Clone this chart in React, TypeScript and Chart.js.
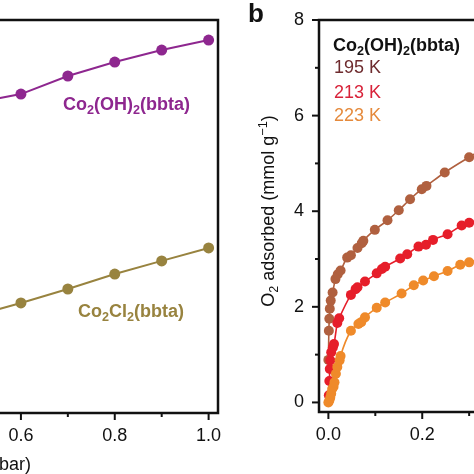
import React, { useEffect, useRef } from "react";
import { Chart, registerables } from "chart.js";

Chart.register(...registerables);

// ---- Panel a (left, partially visible) ----
const P_A = [0.5, 0.6, 0.7, 0.8, 0.9, 1.0];
const Q_OH = [1.578, 1.623, 1.715, 1.786, 1.847, 1.898];
const Q_CL = [0.494, 0.56, 0.631, 0.707, 0.774, 0.84];

// ---- Panel b (right) : Co2(OH)2(bbta) O2 isotherms ----
const P_195 = [0.0, 0.001, 0.002, 0.003, 0.005, 0.009, 0.015, 0.02, 0.026, 0.04, 0.048, 0.062, 0.071, 0.0745, 0.099, 0.126, 0.15, 0.174, 0.199, 0.209, 0.248, 0.3, 0.35];
const Q_195 = [0.89, 1.5, 1.75, 1.96, 2.13, 2.3, 2.58, 2.68, 2.76, 3.03, 3.08, 3.23, 3.33, 3.38, 3.61, 3.81, 4.02, 4.25, 4.46, 4.53, 4.81, 5.13, 5.42];
const P_213 = [0.001, 0.002, 0.003, 0.004, 0.006, 0.0095, 0.012, 0.019, 0.023, 0.048, 0.058, 0.062, 0.078, 0.103, 0.114, 0.121, 0.153, 0.168, 0.192, 0.208, 0.223, 0.254, 0.284, 0.3, 0.35];
const Q_213 = [0.15, 0.45, 0.7, 0.88, 1.05, 1.15, 1.22, 1.66, 1.76, 2.25, 2.37, 2.41, 2.53, 2.7, 2.79, 2.84, 3.01, 3.1, 3.26, 3.3, 3.4, 3.52, 3.7, 3.76, 3.92];
const P_223 = [0.0, 0.002, 0.004, 0.006, 0.008, 0.011, 0.013, 0.016, 0.019, 0.024, 0.026, 0.048, 0.064, 0.07, 0.078, 0.103, 0.121, 0.156, 0.182, 0.202, 0.225, 0.254, 0.281, 0.3, 0.35];
const Q_223 = [0.0, 0.04, 0.1, 0.18, 0.28, 0.33, 0.42, 0.6, 0.74, 0.88, 0.97, 1.5, 1.64, 1.68, 1.78, 1.98, 2.09, 2.28, 2.45, 2.55, 2.64, 2.75, 2.88, 2.93, 3.1];

const X_TICK_LABELS = ["0.0", "0.2", "0.4", "0.6", "0.8", "1.0"];
const Y_TICK_LABELS = ["0", "2", "4", "6", "8"];

const FONT = '"Liberation Sans", Arial, Helvetica, sans-serif';
const PURPLE = "#8e278f";
const OLIVE = "#98833f";
const BROWN = "#b0603f";
const RED = "#e61e2a";
const ORANGE = "#ef8a2a";

const pts = (xs: number[], ys: number[]) => xs.map((x, i) => ({ x, y: ys[i] }));

const hasLabel = (l: any) => (Array.isArray(l) ? l.length > 0 : !!l);

const framePlugin = {
  id: "frame",
  beforeDatasetsDraw(chart: any, _args: any, opts: any) {
    const { ctx, chartArea: a, scales } = chart;
    ctx.save();
    ctx.strokeStyle = "#111";
    ctx.lineWidth = 2.5;
    ctx.strokeRect(a.left, a.top, a.right - a.left, a.bottom - a.top);
    ctx.lineWidth = 2;
    const xs = scales.x;
    xs.ticks.forEach((t: any) => {
      const px = xs.getPixelForValue(t.value);
      const len = hasLabel(t.label) ? 7 : 4;
      ctx.beginPath();
      ctx.moveTo(px, a.bottom);
      ctx.lineTo(px, a.bottom + len);
      ctx.stroke();
    });
    if (opts && opts.yTicks) {
      const ys = scales.y;
      ys.ticks.forEach((t: any) => {
        const py = ys.getPixelForValue(t.value);
        const len = hasLabel(t.label) ? 7 : 4;
        ctx.beginPath();
        ctx.moveTo(a.left, py);
        ctx.lineTo(a.left - len, py);
        ctx.stroke();
      });
    }
    ctx.restore();
  },
};

const xTickCb = (v: any) => {
  const k = Math.round(Number(v) * 10);
  return k % 2 === 0 ? X_TICK_LABELS[k / 2] ?? "" : "";
};
const yTickCb = (v: any) => {
  const k = Math.round(Number(v));
  return k % 2 === 0 ? Y_TICK_LABELS[k / 2] ?? "" : "";
};

const hiddenGrid = { display: true, drawOnChartArea: false, drawTicks: true, tickLength: 6, color: "rgba(0,0,0,0)" };

export default function App() {
  const leftRef = useRef<HTMLCanvasElement>(null);
  const rightRef = useRef<HTMLCanvasElement>(null);

  useEffect(() => {
    const left = new Chart(leftRef.current as HTMLCanvasElement, {
      type: "scatter",
      data: {
        datasets: [
          { data: pts(P_A, Q_OH), borderColor: PURPLE, backgroundColor: PURPLE, pointBackgroundColor: PURPLE, showLine: true, borderWidth: 2, pointRadius: 5.5, pointBorderWidth: 0, clip: false } as any,
          { data: pts(P_A, Q_CL), borderColor: OLIVE, backgroundColor: OLIVE, pointBackgroundColor: OLIVE, showLine: true, borderWidth: 2, pointRadius: 5.5, pointBorderWidth: 0, clip: false } as any,
        ],
      },
      options: {
        responsive: false,
        animation: false,
        layout: { padding: { top: 20, right: 42, left: 0, bottom: 0 } },
        plugins: { legend: { display: false }, tooltip: { enabled: false }, frame: { yTicks: false } } as any,
        scales: {
          x: {
            type: "linear",
            min: -0.02,
            max: 1.02,
            grid: hiddenGrid,
            border: { display: false },
            ticks: { stepSize: 0.1, includeBounds: false, autoSkip: false, maxRotation: 0, padding: 6, color: "#111", font: { family: FONT, size: 18 }, callback: xTickCb },
            afterFit: (s: any) => { s.height = 61; },
          } as any,
          y: {
            type: "linear",
            min: 0,
            max: 2,
            grid: { display: false },
            border: { display: false },
            ticks: { display: false },
            afterFit: (s: any) => { s.width = 70; },
          } as any,
        },
      },
      plugins: [framePlugin],
    });

    const mk = (xs: number[], ys: number[], c: string) => ({
      data: pts(xs, ys),
      borderColor: c,
      backgroundColor: c,
      pointBackgroundColor: c,
      showLine: true,
      borderWidth: 1.6,
      pointRadius: 5,
      pointBorderWidth: 0,
      cubicInterpolationMode: "monotone",
      clip: false,
    });

    const right = new Chart(rightRef.current as HTMLCanvasElement, {
      type: "scatter",
      data: {
        datasets: [mk(P_223, Q_223, ORANGE), mk(P_213, Q_213, RED), mk(P_195, Q_195, BROWN)] as any,
      },
      options: {
        responsive: false,
        animation: false,
        layout: { padding: { top: 20, right: 43, left: 0, bottom: 0 } },
        plugins: { legend: { display: false }, tooltip: { enabled: false }, frame: { yTicks: true } } as any,
        scales: {
          x: {
            type: "linear",
            min: -0.02,
            max: 1.02,
            grid: hiddenGrid,
            border: { display: false },
            ticks: { stepSize: 0.1, includeBounds: false, autoSkip: false, maxRotation: 0, padding: 6, color: "#111", font: { family: FONT, size: 18 }, callback: xTickCb },
            afterFit: (s: any) => { s.height = 62; },
          } as any,
          y: {
            type: "linear",
            min: -0.2,
            max: 8,
            grid: hiddenGrid,
            border: { display: false },
            ticks: { stepSize: 1, includeBounds: false, autoSkip: false, padding: 9, color: "#111", font: { family: FONT, size: 18 }, callback: yTickCb },
            afterFit: (s: any) => { s.width = 69; },
          } as any,
        },
      },
      plugins: [framePlugin],
    });

    return () => {
      left.destroy();
      right.destroy();
    };
  }, []);

  const sub: React.CSSProperties = { fontSize: "0.7em", verticalAlign: "-0.3em", lineHeight: 0 };
  const sup: React.CSSProperties = { fontSize: "0.7em", verticalAlign: "0.55em", lineHeight: 0 };
  const txt = (extra: React.CSSProperties): React.CSSProperties => ({
    position: "absolute",
    whiteSpace: "nowrap",
    lineHeight: 1,
    fontFamily: FONT,
    fontSize: 18,
    ...extra,
  });

  return (
    <div style={{ position: "fixed", left: 0, top: 0, width: 474, height: 474, overflow: "hidden", background: "#fff", fontFamily: FONT }}>
      <canvas ref={leftRef} width={600} height={474} style={{ position: "absolute", left: -340, top: 0, width: 600, height: 474 }} />
      <canvas ref={rightRef} width={600} height={474} style={{ position: "absolute", left: 250, top: 0, width: 600, height: 474 }} />

      {/* panel a annotations */}
      <div style={txt({ left: 63, top: 95, fontWeight: "bold", color: PURPLE })}>
        Co<span style={sub}>2</span>(OH)<span style={sub}>2</span>(bbta)
      </div>
      <div style={txt({ left: 78, top: 302, fontWeight: "bold", color: OLIVE })}>
        Co<span style={sub}>2</span>Cl<span style={sub}>2</span>(bbta)
      </div>
      <div style={txt({ right: 443, top: 455, color: "#111", textAlign: "right" })}>Pressure (bar)</div>

      {/* panel b annotations */}
      <div style={txt({ left: 248, top: 0, fontSize: 26, fontWeight: "bold", color: "#111" })}>b</div>
      <div style={txt({ left: 333, top: 36, fontWeight: "bold", color: "#111" })}>
        Co<span style={sub}>2</span>(OH)<span style={sub}>2</span>(bbta)
      </div>
      <div style={txt({ left: 334, top: 58, color: "#6e2b2e" })}>195 K</div>
      <div style={txt({ left: 334, top: 83, color: "#d8233a" })}>213 K</div>
      <div style={txt({ left: 334, top: 106, color: "#e58a3c" })}>223 K</div>
      <div
        style={txt({
          left: 268 - 150,
          top: 211 - 9,
          width: 300,
          textAlign: "center",
          color: "#111",
          transform: "rotate(-90deg)",
          transformOrigin: "50% 50%",
        })}
      >
        O<span style={sub}>2</span> adsorbed (mmol g<span style={sup}>−1</span>)
      </div>
    </div>
  );
}
